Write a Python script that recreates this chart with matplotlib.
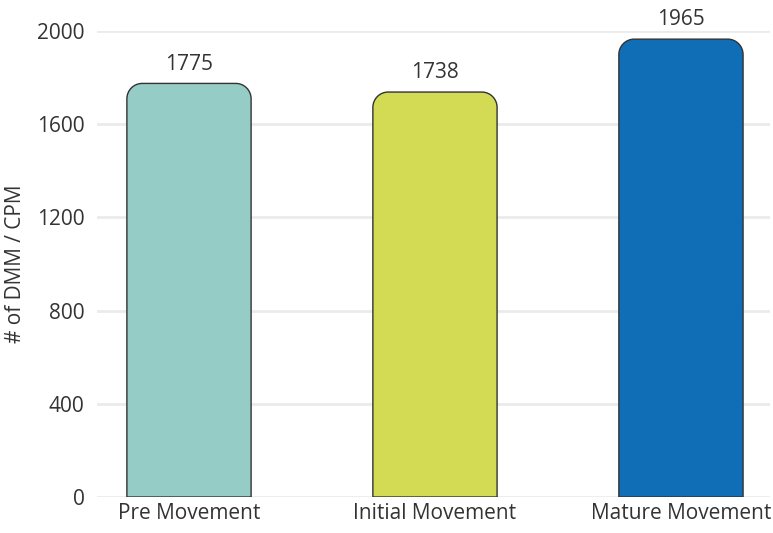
import matplotlib
matplotlib.use("Agg")
import matplotlib.pyplot as plt
from matplotlib.path import Path
from matplotlib.patches import PathPatch

plt.rcParams['font.family'] = ['Open Sans', 'DejaVu Sans']

stages = ["Pre Movement", "Initial Movement", "Mature Movement"]
counts = [1775, 1738, 1965]
colors = ["#95cdc6", "#d3db55", "#106eb7"]
yticks = [0, 400, 800, 1200, 1600, 2000]

fig = plt.figure(figsize=(7.73, 5.33), dpi=100)
ax = fig.add_axes([97 / 773, 1 - 497 / 533, 673 / 773, 466 / 533])
ax.set_xlim(-0.374, 2.362)
ax.set_ylim(0, 2000)

width = 0.505
rx, ry = 0.062, 66  # corner radius in data units


def rounded_bar(x, h):
    l, r = x - width / 2, x + width / 2
    k = 0.5523
    verts = [(l, 0), (l, h - ry),
             (l, h - ry + k * ry), (l + rx - k * rx, h), (l + rx, h),
             (r - rx, h),
             (r - rx + k * rx, h), (r, h - ry + k * ry), (r, h - ry),
             (r, 0), (l, 0)]
    codes = [Path.MOVETO, Path.LINETO,
             Path.CURVE4, Path.CURVE4, Path.CURVE4,
             Path.LINETO,
             Path.CURVE4, Path.CURVE4, Path.CURVE4,
             Path.LINETO, Path.CLOSEPOLY]
    return Path(verts, codes)


fs = 15
for i, (v, c) in enumerate(zip(counts, colors)):
    ax.add_patch(PathPatch(rounded_bar(i, v), facecolor=c, edgecolor="#333333",
                           linewidth=1.0, zorder=3))
    ax.text(i, v + 38, str(v), ha="center", va="bottom", fontsize=fs,
            color="#333333", clip_on=False)

ax.set_yticks(yticks)
ax.set_xticks(range(len(stages)))
ax.set_xticklabels(stages)
ax.tick_params(length=0, labelsize=fs, colors="#333333")
ax.tick_params(axis="y", pad=9)
ax.tick_params(axis="x", pad=4)
ax.grid(axis="y", color="#ebebeb", linewidth=2, zorder=0)
for s in ax.spines.values():
    s.set_visible(False)
ax.set_ylabel("# of DMM / CPM", fontsize=fs, color="#333333", labelpad=8)

fig.savefig("out.png", dpi=100)
